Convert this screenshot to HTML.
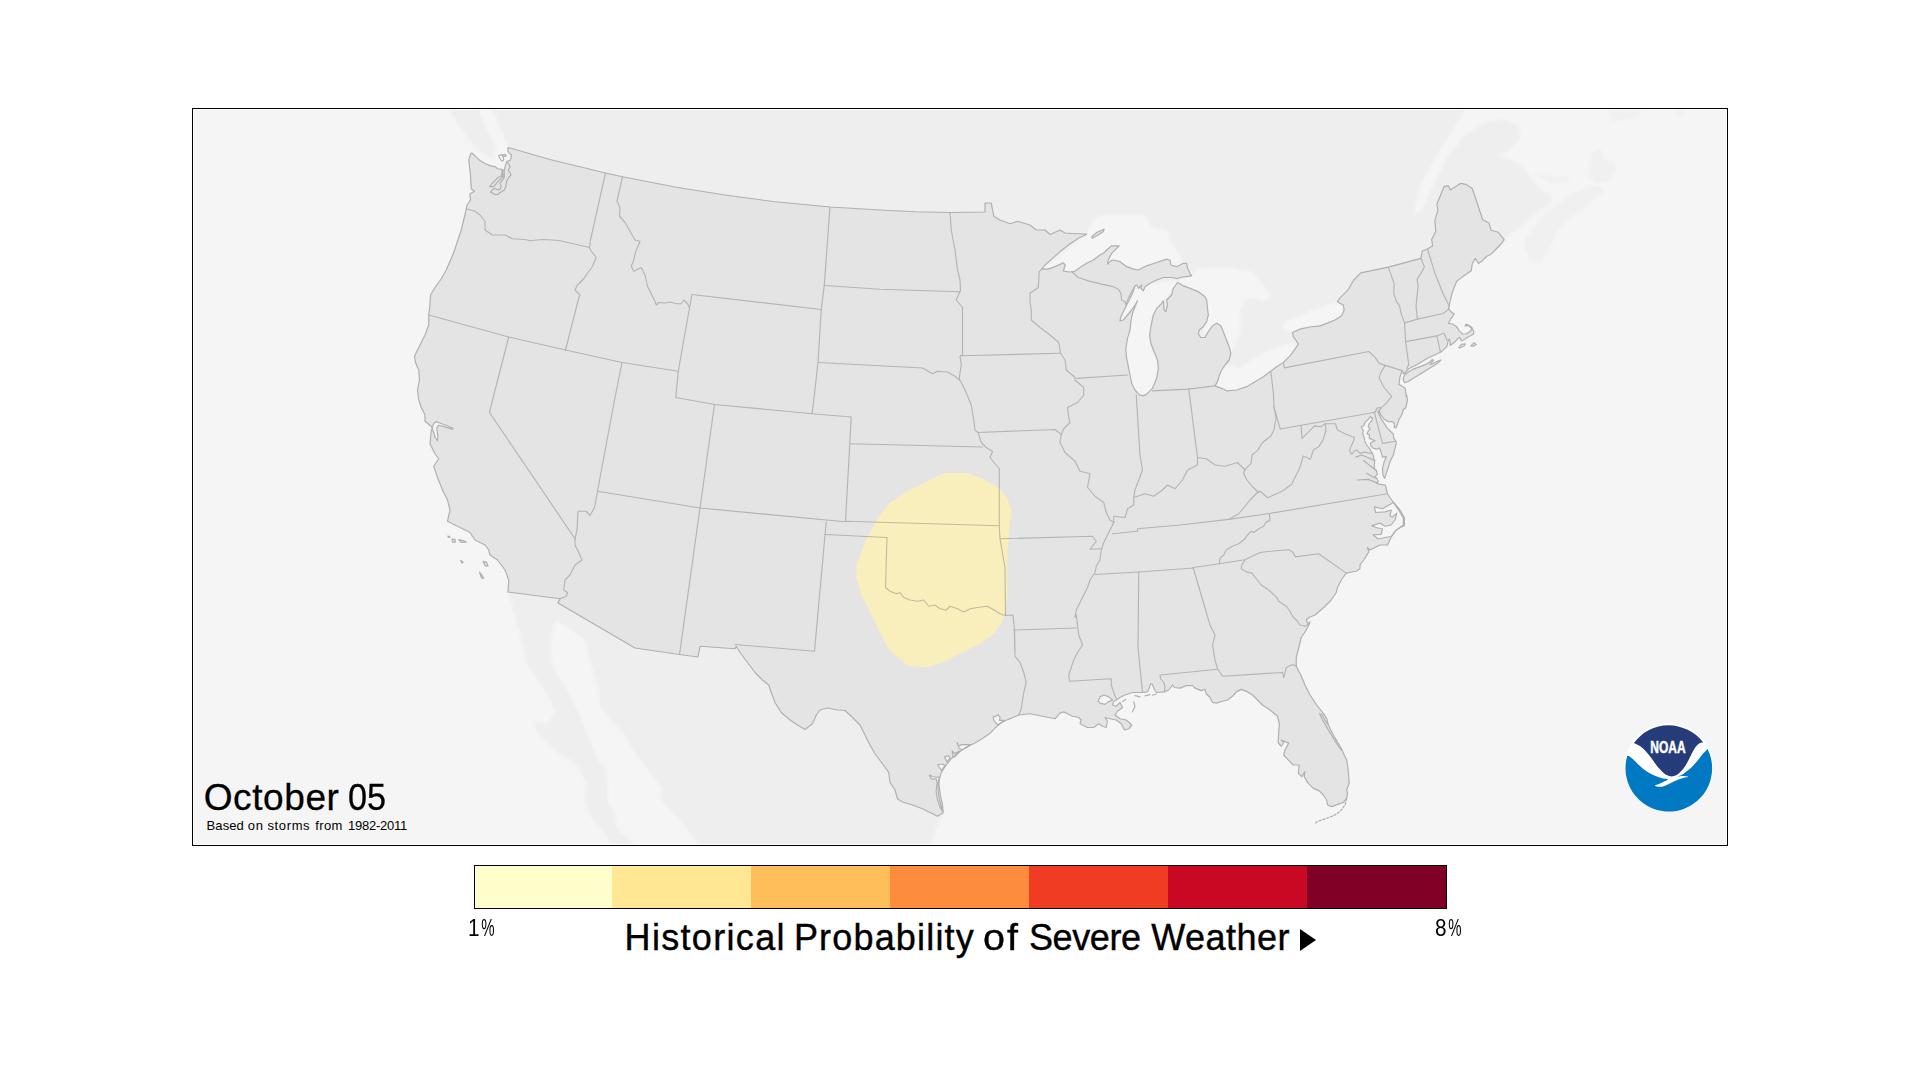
<!DOCTYPE html>
<html lang="en"><head><meta charset="utf-8"><title>Historical Probability of Severe Weather</title>
<style>
html,body{margin:0;padding:0;background:#fff;}
body{width:1920px;height:1080px;position:relative;overflow:hidden;font-family:"Liberation Sans","DejaVu Sans Condensed",sans-serif;color:#000;}
.frame{position:absolute;left:192px;top:108px;width:1534px;height:736px;border:1px solid #000;background:#fff;}
.map{position:absolute;left:194px;top:110px;display:block;}
.date{position:absolute;left:0;top:778px;width:800px;height:40px;font-size:37px;line-height:40px;white-space:nowrap;-webkit-text-stroke:0.3px #000;}
.date span,.sub span{position:absolute;top:0;}
.sub{position:absolute;left:0;top:817.5px;width:800px;height:16px;font-size:13px;line-height:16px;white-space:nowrap;}
.cbar{position:absolute;left:474px;top:865px;width:971px;height:42px;border:1px solid #000;display:flex;}
.cbar i{display:block;flex:0 0 139px;height:100%;}
.cbar i:first-child{flex:0 0 137px;}
.lo,.hi{position:absolute;top:915px;font-size:23.6px;line-height:26px;white-space:nowrap;transform:scaleX(.88);transform-origin:0 50%;}
.lo b,.hi b{display:inline-block;font-weight:normal;transform:scaleX(.72);transform-origin:0 50%;margin-left:1.5px;}
.lo{left:468px;} .hi{left:1435.3px;}
.title{position:absolute;left:0;top:917px;width:1920px;height:42px;font-size:36px;line-height:42px;white-space:nowrap;}
.title span{position:absolute;top:0;-webkit-text-stroke:0.4px #000;}
.tri{position:absolute;left:1300px;top:928.5px;width:0;height:0;border-left:16.5px solid #000;border-top:11px solid transparent;border-bottom:11px solid transparent;}

</style></head><body>
<div class="frame"></div>
<svg class="map" width="1532" height="734" viewBox="194 110 1532 734">
<defs><filter id="soft" x="-5%" y="-5%" width="110%" height="110%"><feGaussianBlur stdDeviation="1.5"/></filter></defs>
<rect x="194" y="110" width="1532" height="734" fill="#f5f5f5"/>
<g filter="url(#soft)">
<path d="M507.75,147.5 L504,135 L497.75,122.5 L492.75,110 L491.5,100 L1465.37,99.81 L1464.52,110 L1457.72,121.88 L1445.84,140.56 L1432.26,162.63 L1420.37,184.7 L1413.58,215.26 L1422.07,210.17 L1433.96,183.01 L1445.84,159.24 L1464.52,135.47 L1484.89,121.88 L1501.87,119.34 L1518.85,125.28 L1520.54,137.16 L1508.66,150.75 L1495.08,155.84 L1510.36,159.24 L1522.24,166.03 L1530.73,177.91 L1539.22,188.1 L1549.41,194.89 L1552.8,201.68 L1546.01,205.93 L1535.82,213.57 L1518.85,227.15 L1503.57,239.88 L1400,300 L1330,330 L1200,400 L1100,300 L900,260 L600,220 L510,160Z" fill="#eeeeee"/>
<path d="M447.75,100 L449,110 L459,125 L469,140 L481.5,152.5 L494,160 L496.5,147.5 L486.5,130 L479,110 L477.75,100Z" fill="#eeeeee"/>
<path d="M508,592.5 L512.5,607.5 L517.5,625 L522.5,645 L527.5,665 L537.5,680 L547.5,695 L555,710 L550,722.5 L532.5,722.5 L540,735 L555,750 L570,760 L580,770 L586.25,782.5 L585,800 L590,815 L602.5,830 L612.5,845 L617.5,855 L928,856 L930,844 L943,813 L900,700 L700,600 L560,560Z" fill="#eeeeee"/>
<path d="M555,620 L551.25,637.5 L551.25,660 L556.25,675 L565,685 L572.5,700 L580,715 L585,730 L592.5,745 L597.5,760 L605,767.5 L607.5,782.5 L607.5,800 L615,815 L617.5,830 L625,835 L635,845 L640,855 L703.75,855 L700,845 L695,840 L682.5,822.5 L670,810 L660,797.5 L662.5,787.5 L655,780 L645,765 L632.5,750 L625,735 L612.5,722.5 L600,705 L597.5,685 L590,660 L585,640 L570,628.75Z" fill="#f5f5f5"/>
<path d="M1523.94,245.82 L1529.03,259.41 L1539.22,262.8 L1549.41,249.22 L1557.89,228.85 L1569.78,218.66 L1583.36,208.47 L1595.25,198.29 L1603.74,191.49 L1600.34,184.7 L1586.76,188.1 L1569.78,194.89 L1556.2,205.08 L1546.01,211.87 L1535.82,225.45 L1525.64,239.03Z" fill="#f0f0f0"/>
<path d="M1591.85,152.44 L1600.34,148.2 L1603.74,159.24 L1613.92,162.63 L1617.32,169.42 L1607.13,181.31 L1595.25,183.01 L1588.46,174.52Z" fill="#f0f0f0"/>
<path d="M1534.13,172.82 L1540.92,177.91 L1552.8,183.01 L1566.38,181.31 L1573.17,172.82 L1568.08,176.21 L1556.2,177.91 L1544.31,174.52Z" fill="#f0f0f0"/>
<path d="M1607.98,99.81 L1608.83,110 L1612.22,121.88 L1620.71,120.19 L1637.69,116.79 L1641.09,110 L1641.94,99.81Z" fill="#f0f0f0"/>
<path d="M1672.5,99.81 L1673.34,110 L1680.14,116.79 L1686.93,110 L1687.78,99.81Z" fill="#f0f0f0"/>
<path d="M1041.67,269.17 L1086.67,234.17 L1090.83,225 L1093.33,218.33 L1103.33,215 L1143.33,215 L1153.33,228.33 L1168.33,230 L1170,240 L1175,248.33 L1180,255 L1180.83,261.67 L1186.67,263.33 L1191.67,275.83 L1180,270 L1146.67,270 L1113.33,265 L1080,271.67Z" fill="#f5f5f5"/>
<path d="M1177.5,280.83 L1191.67,275.83 L1196.67,268.33 L1230,267.5 L1251.67,271.67 L1263.33,285 L1271.67,296.67 L1263.33,301.67 L1251.67,298.33 L1243.33,301.67 L1240.83,315 L1240,331.67 L1235,346.67 L1230.83,353.33 L1221.67,370 L1205,337.5 L1196.67,291.67Z" fill="#f5f5f5"/>
<path d="M1177.5,280.83 L1136.67,285 L1120,320.83 L1125.83,348.33 L1131.67,383.33 L1143,395.83 L1156.67,378.33 L1149.67,335 L1163.33,300.83 L1177.5,282.5Z" fill="#f5f5f5"/>
<path d="M1215,385.83 L1221.67,370 L1230,365 L1240,368.33 L1250,360 L1263.33,353.33 L1276.67,346.67 L1290,343.33 L1298.33,344.17 L1290,355.83 L1270,371.67 L1246.67,386.67 L1226.67,390.83Z" fill="#f5f5f5"/>
<path d="M1292.5,332.5 L1283.33,330 L1280,326.67 L1286.67,321.67 L1296.67,316.67 L1313.33,310 L1326.67,305 L1338.33,301.67 L1344.17,310 L1335,320 L1320,325.83 L1300,329.17Z" fill="#f5f5f5"/>
<path d="M1240.83,308.33 L1251.67,300 L1266.67,305 L1280,321.67 L1283.33,330 L1292.5,332.5 L1296.67,343.33 L1290,343 L1276.67,346.33 L1263.33,353 L1250,359.67 L1240,368 L1230.83,364.67 L1223.33,367.5 L1230.83,353.33 L1235.33,346.67 L1240,331.67Z" fill="#eeeeee"/>
</g>
<path d="M470.94,153.12 L472.5,153.44 L476.25,156.88 L480,160.62 L485,163.44 L490,165.62 L495.62,166.88 L497.5,168.75 L501.88,169.38 L502.5,172.5 L504.38,170 L505,166.88 L506.88,161.56 L510.62,160 L511.56,155 L509.38,153.12 L507.81,151.25 L508.12,147.5 L550,159.5 L605.5,173 L622.5,176.75 L675,187 L725,195 L775,201.75 L830,207 L880,210 L915,211.75 L950,212.5 L985,212 L985,203 L991.25,203 L993.75,216.25 L1000,220 L1010,223.75 L1017.5,221.25 L1030,225 L1036.25,230 L1045,230 L1050,234.5 L1060,230 L1065,233 L1077.5,233.75 L1086.67,234.17 L1078.33,238.33 L1068.33,245 L1060,251.67 L1051.67,259.17 L1045,265 L1041.67,269.17 L1048.33,269.17 L1056.67,265.83 L1063.33,262.83 L1065.33,265 L1063.33,270.83 L1068.33,272 L1074.17,271.67 L1080,267.5 L1086.67,263.33 L1093.33,260 L1100,255 L1103.33,253.33 L1106.67,250 L1111.67,245.83 L1119.17,245.83 L1116.67,248.33 L1111.67,253.33 L1108.33,260 L1107.5,264.17 L1110.83,260.83 L1113.33,260 L1120,261.67 L1126.67,266.67 L1133.33,269.17 L1138.33,270 L1146.67,265.83 L1156.67,262.5 L1166.67,259.17 L1170,260 L1170.83,265 L1176.67,266.67 L1183.33,263.33 L1186.67,263.33 L1187.5,268.33 L1190,273.33 L1191.67,275.83 L1180,277.5 L1177.5,278.67 L1171.67,277.5 L1163.33,277.5 L1156.67,280 L1150,283.33 L1145,286.67 L1143.33,290.83 L1140.83,288.33 L1141.67,285 L1138.33,288.33 L1136.67,285 L1135,285.83 L1132.5,293.33 L1128.33,301.67 L1125,308.33 L1120.83,316.67 L1120,320.83 L1123.33,320 L1127.5,315 L1131.67,310 L1135,305 L1137.5,300.83 L1135,306.67 L1132.5,313.33 L1130.83,321.67 L1130,330 L1127.5,338.33 L1125.83,348.33 L1126.33,356.67 L1128.33,366.67 L1130,375 L1131.67,383.33 L1135,390 L1139.17,394.67 L1143,395.83 L1146.67,394.17 L1152.5,388.33 L1156.67,378.33 L1158.33,368.33 L1157.5,360 L1154.17,351.67 L1150.83,343.33 L1149.67,335 L1150.83,326.67 L1153.33,315 L1156.67,308.33 L1161.67,303.33 L1163.33,300.83 L1164.17,310 L1165.83,311.67 L1167.5,305 L1166.67,300 L1171.67,295 L1173.33,288.33 L1175.83,285 L1177.5,282.5 L1183.33,285.83 L1190,288.33 L1198.33,291.67 L1205,296.67 L1206.67,300 L1207.5,308.33 L1208.33,315 L1206.67,321.67 L1203.33,326.67 L1199.17,330 L1198.33,334.17 L1200.83,337.5 L1205,337.5 L1208.33,331.67 L1212.5,325.83 L1216.67,323.33 L1220.83,325.83 L1223.33,331.67 L1225.83,338.33 L1229.17,346.67 L1230.83,353.33 L1229.17,360 L1225,365 L1221.67,370 L1219.17,375.83 L1217.5,381.67 L1215,385.83 L1221.67,388.33 L1226.67,390.83 L1236.67,390 L1246.67,386.67 L1255,381.67 L1263.33,376.67 L1270,371.67 L1276.67,366.67 L1283.33,362.5 L1290,355.83 L1295,349.17 L1298.33,344.17 L1295.83,340 L1293.33,336.67 L1292.5,332.5 L1300,329.17 L1310,327 L1320,325.83 L1326.67,323.33 L1335,320 L1341.67,315.83 L1344.17,310 L1343.33,305 L1340,303.33 L1337.5,301.67 L1340,297.92 L1348.33,289.58 L1353.54,280.21 L1360.83,272.92 L1388.33,267.08 L1420.83,258.33 L1422.29,251.04 L1427.5,248.96 L1432.71,245.83 L1431.67,239.58 L1435.83,231.25 L1434.79,220.83 L1437.92,210.42 L1436.88,204.17 L1444.17,186.46 L1448.33,185.83 L1450.42,190 L1460.83,183.33 L1466.04,184.38 L1472.29,188.54 L1482.71,219.79 L1488.96,222.92 L1491.04,230.21 L1498.33,232.29 L1504.17,239.58 L1500.42,244.79 L1495.21,250 L1491.04,254.17 L1486.88,256.25 L1482.71,260.42 L1478.54,263.54 L1475.42,258.33 L1472.29,263.54 L1471.25,270.83 L1465,275 L1460.83,278.12 L1456.67,281.25 L1452.5,291.67 L1450.42,300 L1449.38,305.21 L1448.5,308.75 L1451.67,312.5 L1454.33,313.75 L1452.5,316.67 L1450.83,318.75 L1448.5,323.33 L1452.5,324 L1456.67,326.67 L1459.17,330.83 L1462.5,334 L1466.67,333.75 L1470.67,331 L1471.67,328.5 L1469.33,326 L1466.25,325.42 L1465.17,326 L1465.83,324.33 L1468.75,325.17 L1471.83,327.5 L1473.75,331.67 L1473.5,334.17 L1468.5,336.67 L1463.5,340 L1461,340.58 L1460.17,337.67 L1458.33,338.08 L1455.17,341.67 L1451.83,344.17 L1450,345.42 L1450.17,341.67 L1449.33,339.17 L1448.17,340.83 L1447.33,344.58 L1446.67,346.83 L1440.83,352.08 L1427.5,358.33 L1417.08,364.58 L1408.75,368.75 L1403.54,373.96 L1402.08,370.62 L1400,376.88 L1398.96,384.17 L1405.21,388.33 L1406.25,396.67 L1406.67,395 L1407.5,400 L1405.83,407.5 L1403.33,410 L1401.67,415 L1399.17,419.17 L1397.5,424.17 L1395.83,427.92 L1394.17,427.5 L1394.58,424.17 L1392.5,421.67 L1388.33,421.67 L1384.17,419.17 L1381.67,415.83 L1379.58,412.5 L1379.17,410 L1377.92,411.67 L1380.83,418.33 L1384.17,423.33 L1387.5,428.33 L1391.67,432.5 L1393.33,434.17 L1393.75,438.33 L1395.83,440.83 L1396.25,443.33 L1395,448.33 L1393.33,455 L1390,461.67 L1388.33,467.5 L1386.25,473.33 L1384.58,478.33 L1382.92,475 L1382.5,468.33 L1384.17,461.67 L1386.25,456.67 L1382.5,457.08 L1381.67,454.17 L1380.42,450 L1379.17,447.92 L1376.67,449.17 L1373.33,448.33 L1370.83,445.83 L1370.42,443.33 L1373.33,441.25 L1375,440.83 L1371.67,439.17 L1369.17,438.33 L1369.58,435 L1367.08,433.75 L1368.33,430.83 L1370,429.17 L1368.33,426.67 L1369.17,423.33 L1371.67,420.83 L1372.5,418.33 L1370.42,416.67 L1368.33,419.17 L1365.42,421.67 L1363.75,425.83 L1361.25,427.08 L1363.33,430.83 L1362.5,433.33 L1364.17,437.5 L1365,441.67 L1366.67,445 L1370,449.17 L1372.08,452.92 L1373.33,455.83 L1374.58,461.67 L1374.17,467.5 L1376.67,471.67 L1377.5,474.17 L1375,476.67 L1376.67,478.33 L1378.33,481.67 L1376.67,483.33 L1379.17,484.17 L1385.42,485.21 L1387.5,493.75 L1392.5,501.25 L1400,510 L1404.38,517.5 L1404.38,525.62 L1400,527.5 L1395.62,530.62 L1391.25,536.88 L1387.5,545 L1380,545 L1370,550 L1367.5,547.5 L1368.75,551.88 L1363.75,560 L1360,565 L1360,568.75 L1356.25,571.25 L1346.25,573.12 L1341.25,580 L1337.5,587.5 L1336.25,592.5 L1331.25,600 L1323.75,607.5 L1315,615 L1308.75,617.5 L1306.25,620 L1308.75,625 L1310,622.5 L1306.25,630 L1301.25,637.5 L1298.75,647.5 L1296.25,657.5 L1296.25,666.25 L1300.83,675 L1305,685 L1310,695 L1316.67,705 L1323.33,713.33 L1326.67,718.33 L1328.33,725 L1333.33,735 L1338.33,743.33 L1342.5,750.83 L1343.33,753.33 L1346.67,760 L1348.33,771.67 L1349.17,783.33 L1346.67,790 L1347.5,793.33 L1346.67,798.33 L1343.33,802.5 L1338.33,804.17 L1331.67,806.67 L1327.5,805 L1326.67,800 L1323.33,795 L1319.17,790.83 L1313.33,788.33 L1308.33,783.33 L1304.17,776.67 L1305,771.67 L1301.67,776.67 L1298.33,773.33 L1299.17,765 L1293.33,765 L1286.67,758.33 L1283.75,755 L1285,750 L1288.75,743.12 L1281.25,740 L1283.75,742.5 L1281.25,746.25 L1278.12,742.5 L1278.75,732.5 L1279.38,723.75 L1277.5,716.25 L1270,710 L1262.5,705 L1257.5,700 L1252.5,695 L1247.5,691.88 L1241.25,689.38 L1236.25,691.88 L1232.5,696.25 L1227.5,700 L1222.5,701.25 L1216.25,703.12 L1212.5,702.5 L1210,697.5 L1206.25,693.75 L1205,689.38 L1201.25,690.62 L1195,688.12 L1192.5,685.62 L1186.25,685.62 L1180,688.12 L1174.38,687.5 L1172.5,685 L1168.75,690 L1164.38,691.88 L1156.25,692.5 L1153.75,688.12 L1152.5,684.38 L1150.62,683.75 L1149.38,687.5 L1147.5,691.88 L1141.25,692.5 L1132.5,692.5 L1125,695 L1120,697.5 L1116.25,700 L1113.75,701.25 L1112.5,705 L1116.25,706.25 L1120,702.5 L1122.5,707.5 L1117.5,711.25 L1115,715 L1120,718.75 L1126.25,720 L1131.88,725 L1128.75,728.75 L1124.38,730 L1121.25,723.75 L1116.25,720 L1110,718.75 L1105,717.5 L1107.5,721.25 L1106.25,727.5 L1102.5,726.25 L1098.75,723.75 L1093.75,727.5 L1087.5,727.5 L1082.5,725 L1080,723.75 L1081.25,720 L1078.75,717.5 L1072.5,716.25 L1067.5,713.75 L1063.75,711.88 L1060,713.12 L1055,718.75 L1042.5,716.25 L1030,713.75 L1018.75,715 L1014.72,716.81 L1007.78,719.58 L1000.83,723.06 L995.28,727.92 L989.72,733.47 L982.78,738.33 L974.44,743.19 L966.11,747.36 L957.78,752.92 L950.83,759.17 L945.28,766.11 L941.11,773.06 L939.03,780 L939.03,785.56 L940.42,795.28 L942.5,805 L943.19,812.64 L937.5,816.25 L930,812.5 L922.5,808.75 L912.5,805 L902.5,802 L897.5,798.75 L895,790 L890,782.5 L888.75,772.5 L882.5,763.75 L875,753.75 L870,745 L865,735 L860,725 L852.5,717.5 L845,710.5 L837.5,710 L827.5,708 L820,710 L816.25,715 L812.5,723.75 L805,729.5 L797.5,725 L790,720 L781.25,712.5 L775,702.5 L771.25,692.5 L768.75,685 L762.5,680 L755,672.5 L747.5,662.5 L740,652.5 L736.25,646.25 L735,648.75 L700,646.25 L698,657 L679.5,654.5 L635,648 L558,603 L560,598.75 L508,592 L508.75,580 L505,570 L497.5,560 L490,555 L488.75,550 L485,545 L475,540 L470,532.5 L460,527.5 L447.5,521.25 L450,510 L447.5,500 L442.5,490 L437.5,477.5 L433.75,466.25 L438.75,458.75 L435,453.75 L430,443.75 L431.25,431.25 L432.5,427.5 L425,421.25 L425,415 L421.25,407.5 L418.75,400 L417.5,390 L419.5,380 L418.75,370 L415.5,362.5 L414.5,356.25 L418.75,347.5 L425,335 L428.75,325 L428.75,315 L430,305 L430.5,295 L435,287.5 L441.25,278.75 L446.25,270 L453.75,252.5 L461.25,230 L465.5,212.5 L466.25,208.75 L467,205 L470.5,200 L470,193.75 L474.5,191.25 L471.25,188.75 L470.5,175 L468.75,160ZM1405,374.58 L1408.33,372.08 L1413.33,369.17 L1420,366.67 L1426.67,364.17 L1430,361.83 L1432.33,359.33 L1433.33,360.42 L1431,363.33 L1430,364.33 L1433.33,363.33 L1438.33,361 L1441,360 L1438.33,362.67 L1433.33,366 L1426.67,370 L1420,374.17 L1413.33,378.33 L1408.33,381.5 L1404.58,382.67 L1403.17,379.58 L1403.75,376.67ZM1458.75,347.5 L1461.25,344.33 L1465.42,343.75 L1464.17,345.83 L1460,347.92ZM1470.83,345.83 L1474.17,342.67 L1476.25,344.58 L1473.33,346.25ZM1091.67,236.67 L1096.67,232.5 L1104.17,229.17 L1103.33,231.67 L1096.67,235.83 L1092.5,238.33ZM451.98,538.99 L455.03,539.4 L455.44,542.05 L452.59,542.05ZM458.7,539.6 L463.19,540.62 L466.25,542.05 L461.15,542.45ZM483.16,561.41 L486.63,562.43 L488.06,565.89 L485.2,565.89ZM479.49,572.01 L481.53,574.66 L483.57,578.12 L481.53,578.12ZM460.74,560.39 L463.19,562.43 L461.56,562.84ZM447.9,536.14 L450.14,536.95 L448.51,537.36Z" fill="#e4e4e4"/>
<path d="M1098.12,701.25 L1100,696.88 L1103.75,695 L1108.75,696.88 L1112.5,700 L1108.12,701.88 L1105,704.38 L1100,703.12Z" fill="#f5f5f5"/>
<path d="M1391.25,503.75 L1382.5,508.75 L1374.38,506.88 L1375.62,512.5 L1385,511.88 L1391.25,510 L1390,516.25 L1392.5,516.88 L1396.88,513.12 L1395,520 L1391.25,525 L1385,526.25 L1380,523.12 L1371.88,525.62 L1376.88,527.75 L1382.5,528.75 L1381.25,534.38 L1373.12,534.75 L1378.12,539 L1386.25,537.25 L1391.25,536.5 L1395.62,530.62 L1400,527.5 L1403.38,525 L1403.38,518.12 L1399,510.62 L1393.5,502.5Z" fill="#f5f5f5"/>
<path d="M502.38,170 L504.06,170.12 L504.38,175 L503,177.38 L502,175.62Z" fill="#f5f5f5"/>
<path d="M432,428.51 L433.84,423.21 L436.28,421.58 L439.14,422.8 L445.86,425.25 L453,428.31 L452.59,429.33 L444.84,426.88 L438.32,425.25 L436.69,428.51 L437.91,436.05 L437.51,440.74 L435.06,437.48 L433.63,431.98Z" fill="#f5f5f5"/>
<path d="M997.36,724.72 L993.89,720.28 L993.19,716.81 L995.97,716.11 L998.06,714.72 L1000.14,717.5 L999.44,720.28 L1004.31,720.28 L1001.11,723.06Z" fill="#f5f5f5"/>
<path d="M957.08,742.5 L958.47,745.97 L961.94,744.58 L970.28,744.58 L966.11,748.06 L961.94,749.72 L959.17,748.33Z" fill="#f5f5f5"/>
<path d="M952.22,750.83 L954.31,753.61 L959.86,751.11 L956.11,755.69 L952.92,757.5Z" fill="#f5f5f5"/>
<path d="M944.58,757.08 L948.06,755.69 L950.14,757.78 L946.94,761.94Z" fill="#f5f5f5"/>
<path d="M937.64,764.72 L942.5,764.03 L945,765.69 L941.39,770.28Z" fill="#f5f5f5"/>
<path d="M929.31,775.14 L931.39,778.89 L936.25,778.89 L937.22,782.78 L936.11,791.11 L937.5,799.44 L940.28,807.78 L942.22,811.25 L941.11,805.69 L939.03,798.06 L938.06,789.72 L938.33,782.08 L939.44,777.22 L936.94,777.22 L932.78,776.53Z" fill="#f5f5f5"/>
<path d="M945,473 L967.5,473 L985,480 L1000,488.75 L1007.5,498.75 L1011.25,510 L1010,525 L1007.5,550 L1007,575 L1007.5,595 L1005,615 L1000,625 L992.5,635 L980,643.75 L965,651.25 L945,661.25 L927.5,667.5 L907.5,665.5 L897.5,657.5 L887.5,647.5 L882.5,637.5 L875,622.5 L867.5,606.25 L861.25,595 L856.25,577.5 L856.25,577.5 L857,565 L860,555 L865,542.5 L872.5,527.5 L880,515 L890,502.5 L910,490 L930,480Z" fill="#f9efbc"/>
<g fill="none" stroke="#6e6e6e" opacity="0.4" stroke-width="1.15" stroke-linejoin="round" stroke-linecap="round">
<path d="M466.25,208.75 L475,211.25 L480,215 L485,221.25 L485,230 L492.5,235 L505,235 L512.5,238.75 L525,239.5 L530,240.75 L542.5,239.5 L552.5,240 L560,240.75 L589.5,247.5"/>
<path d="M605.5,173 L590.5,240 L589.5,247.5 L591.25,251.25 L596.25,257.5 L592.5,266.25 L586.25,275 L583.75,278.75 L577.5,285 L575,290 L580,295 L578.75,298 L565.5,350"/>
<path d="M428.75,315 L508.75,337 L565.5,350 L622,362.5 L678.25,371.25"/>
<path d="M508.75,337 L492.5,400 L489.5,412.5 L575,538.75"/>
<path d="M622,362.5 L614.5,400 L597.5,491.25"/>
<path d="M622.5,176.75 L617,201.25 L620,207.5 L619.5,216.25 L625,222.5 L630,231.25 L635,240 L640,241.25 L637.5,247.5 L635,253.75 L633.75,260 L631.25,266.25 L633.75,271.25 L641.25,267.5 L645,275 L647.5,286.25 L651.25,293.75 L655,301.25 L656.25,305 L658.75,302.5 L665,303 L670,302 L676.25,303.75 L681.25,303.75 L683.75,300 L687.5,303.75 L689.5,308"/>
<path d="M692,294.5 L689.5,308 L678.25,371.25 L675.75,397.5"/>
<path d="M692,294.5 L821.25,309.5"/>
<path d="M830,207 L824.25,285.5 L821.25,309.5 L818,362.5 L813.75,400 L812,413.75"/>
<path d="M824.25,285.5 L880,289.25 L960.5,291.75"/>
<path d="M818,362.5 L880,365.75 L922.5,368 L932.5,373.75 L937.5,371.25 L947.5,372 L955,376.25 L959.5,380"/>
<path d="M675.75,397.5 L714.5,404.5 L812.5,413.75 L851.25,417"/>
<path d="M950,212.5 L951.25,230 L955,250 L957.5,270 L960,280 L960.5,290 L956.25,300 L962.5,307.5 L962.5,355 L960,356.25 L961.25,365 L959.5,376.25 L959.5,380 L960,380 L965,390 L971.25,405 L973.75,420 L975,430 L978,432.5 L981.25,442.5 L986.25,447.5 L992.5,451.25 L990,457.5 L995,463.75 L999.25,468.75 L999.25,525.75 L1000,538.75 L1005,567.5 L1005.5,615.5"/>
<path d="M960.5,355.75 L1060,353.25"/>
<path d="M1041.67,269.17 L1039.17,271.67 L1038.33,287.5 L1030,293.33 L1030,302.5 L1031.25,310 L1031.25,320 L1040,327.5 L1050,335 L1058.75,342.5 L1060.5,353.25 L1065,360 L1066.25,370 L1075,377.5 L1075,380 L1083.75,387.5 L1083.75,395 L1077.5,402.5 L1067.5,407.5 L1068.75,417.5 L1070,422.5 L1063.75,428.75 L1061.25,434.5 L1060,442.5 L1065,452.5 L1075,461.25 L1080,471.25 L1090,473.75 L1087.5,487.5 L1095,496.25 L1103.75,502.5 L1106.25,512.5 L1110,520 L1113.75,522.5 L1110,530 L1107.5,535 L1103.75,542.5 L1101.25,550 L1100,560 L1096.25,566.25 L1095,572.5 L1090,580 L1087.5,587.5 L1083.75,595 L1080,602.5 L1076.25,610 L1075,617.5 L1076.25,615 L1077.5,625 L1078.75,635 L1082.5,645 L1077.5,652.5 L1073.75,660 L1071.25,667.5 L1068.75,675 L1069.5,681.25 L1111.25,678.75 L1111.25,685 L1113.75,692.5 L1116.25,698.75"/>
<path d="M1076.67,378.33 L1127.5,375"/>
<path d="M1072.5,272.5 L1078.33,277.5 L1088.33,280.83 L1101.67,284.17 L1113.33,286.67 L1118.33,289.17 L1120.83,293.33 L1121.67,300 L1125,301.67 L1125.83,305 L1128.33,298.33 L1131.67,291.67 L1135,285.83"/>
<path d="M1152.5,390.83 L1188.33,389.17 L1215,385.83"/>
<path d="M1188.33,389.17 L1188.75,388.75 L1197.5,457.5"/>
<path d="M978,432.5 L1055,429.5 L1061.25,434.5"/>
<path d="M850.5,443.75 L982.5,447"/>
<path d="M851.25,417 L845.5,521.25"/>
<path d="M575,538.75 L577,530 L578,511.25 L586.25,511.25 L590,515.5 L594.5,507.5 L597.5,491.25"/>
<path d="M575,538.75 L575,545 L578.75,552.5 L582,560 L575,565 L570,575 L565,580 L563.75,590 L567.5,592.5 L566.25,596.25 L560,598.75"/>
<path d="M597.5,491.25 L700,508 L845,521.75 L845.5,521.25 L999.25,525.75"/>
<path d="M714.5,404.5 L700,508 L679.5,654.5"/>
<path d="M735,644.5 L814.5,651.25 L825,535 L826.25,521.75"/>
<path d="M825,534.5 L887,537.5 L885.5,587.5 L890,591.25 L896.25,593.75 L900,592.5 L903.75,597.5 L910,600 L917.5,601.25 L923.75,600 L928.75,606.25 L935,605 L940,608.75 L946.25,610 L950,606.25 L957.5,608.75 L963.75,612 L970,608.75 L977.5,607.5 L987.5,606.25 L995,610.5 L1000,613.75 L1005,615.5 L1013,615 L1014.5,630 L1015,650 L1014.25,628.75 L1015,656.25 L1020,662.5 L1023.75,672.5 L1026.25,682.5 L1023.75,692.5 L1022.5,700 L1021.25,708.75 L1018.75,715"/>
<path d="M1014.5,630 L1076.25,628"/>
<path d="M1000,538.75 L1092.5,536.25 L1096.25,541.25 L1090,549.25 L1102,548.75"/>
<path d="M1136.25,395 L1140,455 L1142.5,470 L1138.75,480 L1135,490 L1133.75,497.5"/>
<path d="M1113.75,522.5 L1113.75,516.25 L1125,517.5 L1127.5,508.75 L1133.75,505 L1133.75,497.5 L1145,493.75 L1153.75,496.25 L1162.5,490 L1167.5,485 L1175,488.75 L1182.5,480 L1187.5,470 L1197.5,465 L1197.5,457.5 L1206.25,458.75 L1215,465 L1225,466.25 L1237.5,462.5 L1245,470 L1244.79,469.58 L1251.04,463.33 L1252.08,455 L1257.29,450.83 L1262.5,442.5 L1270.83,436.25 L1273.96,430 L1276.04,417.5 L1273.96,407.08 L1273.33,392.5 L1270.83,371.67"/>
<path d="M1138.75,572 L1138,647.5 L1142.5,692.5"/>
<path d="M1164.38,691.5 L1165,686.25 L1163.75,682.5 L1160.62,678.75 L1160,675 L1217.5,669.25"/>
<path d="M1244.79,469.58 L1243.75,473.75 L1246.88,480 L1252.08,486.25 L1258.33,492.5"/>
<path d="M1258.75,491.25 L1250,500 L1245,506.25 L1238.75,513.75 L1228.75,519.38"/>
<path d="M1112.5,533.75 L1137.5,531.25 L1137.5,528.75 L1180,525 L1228.75,519.38 L1269.38,513.5 L1387.5,493.75"/>
<path d="M1095,574.5 L1138.75,572 L1193.75,568 L1193.12,567.5 L1219.38,563.75 L1245,559.75 L1260,552.5 L1270,551.25 L1288.75,549.75 L1292.5,551.88 L1295.62,556.88 L1318.75,553.75 L1346.25,573.12"/>
<path d="M1269.38,513.5 L1270,520.62 L1266.25,521.88 L1263.75,526.25 L1258.75,528.75 L1253.75,532.5 L1251.25,531.25 L1247.5,535 L1245,538.75 L1238.75,543.75 L1232.5,546.25 L1226.25,550 L1223.75,555 L1220,558.12 L1219.38,563.75"/>
<path d="M1193.12,567.5 L1210,625 L1210,625 L1215,635 L1212.5,645 L1215,660 L1217.5,668.75 L1222.5,676.25 L1282.5,672.5 L1283.75,677.5 L1286.25,667.5 L1292.5,664.5 L1296.25,666.25"/>
<path d="M1245,559.75 L1241.88,565 L1241.25,568.75 L1246.25,571.88 L1251.88,573.12 L1256.25,578.75 L1261.25,585 L1268.75,590 L1276.25,596.88 L1278.75,601.25 L1286.25,606.25 L1290,611.25 L1292.5,616.25 L1297.5,621.25 L1300,625 L1306.25,626.25 L1310,621.25"/>
<path d="M1283.33,363.33 L1284.38,367.92 L1368.75,351.46 L1375,357.08 L1379.17,363.33 L1385.42,365.42 L1381.25,371.67 L1379.17,377.92 L1383.33,386.25 L1391.67,396.67 L1386.46,402.92 L1381.25,408.12 L1379.58,410.21"/>
<path d="M1385.42,365.42 L1402.08,370.62"/>
<path d="M1280.21,428.96 L1375,412.29 L1377.08,408.12 L1381.25,407.5"/>
<path d="M1273.96,407.08 L1280.21,428.96"/>
<path d="M1374.17,411.67 L1382.5,443.33 L1395,441.25"/>
<path d="M1301.04,425.42 L1302.08,438.33 L1308.33,432.08 L1314.58,425.83 L1320.83,426.88 L1325,423.75 L1335.42,423.75 L1337.5,430 L1345.83,434.17 L1354.17,437.29 L1354.17,438.33 L1353.33,441.67 L1350.83,446.67 L1349.58,450.83 L1351.67,454.33 L1355,450.67 L1356.67,450 L1360,453.33 L1364.17,452.08 L1368.33,452.92 L1372.08,453.33"/>
<path d="M1325,423.75 L1326.04,430 L1322.92,440.42 L1318.75,446.67 L1313.54,449.79 L1310.42,459.17 L1303.12,456.04 L1300,467.5 L1295.83,475.83 L1291.67,484.17 L1283.33,490.42 L1275,494.58 L1267.71,497.71 L1260.42,491.46 L1258.33,492.5"/>
<path d="M1388.33,267.08 L1391.04,275 L1394.17,283.33 L1393.75,293.75 L1396.67,302.08 L1399.38,305.21 L1401.46,314.58 L1404.58,322.92 L1405.62,341.67 L1408.75,364.58 L1406.67,368.75"/>
<path d="M1420.83,258.33 L1424.38,266.67 L1421.25,272.92 L1417.08,279.17 L1418.12,285.42 L1417.08,295.83 L1416.04,306.25 L1417.5,319.17"/>
<path d="M1427.5,248.96 L1434.79,272.92 L1443.12,293.75 L1448.33,304.17"/>
<path d="M1404.58,322.92 L1417.5,319.17 L1443.12,313.54 L1448.33,309.38 L1449.38,305.21"/>
<path d="M1405.62,341.67 L1436.88,335.83 L1444.17,333.33 L1446.67,339.17 L1447.33,340.42"/>
<path d="M1436.88,335.83 L1440.42,352.08"/>
</g>
<g fill="none" stroke="#b0b0b0" stroke-width="1.2" stroke-linejoin="round" stroke-linecap="round">
<path d="M470.94,153.12 L472.5,153.44 L476.25,156.88 L480,160.62 L485,163.44 L490,165.62 L495.62,166.88 L497.5,168.75 L501.88,169.38 L502.5,172.5 L504.38,170 L505,166.88 L506.88,161.56 L510.62,160 L511.56,155 L509.38,153.12 L507.81,151.25 L508.12,147.5 L550,159.5 L605.5,173 L622.5,176.75 L675,187 L725,195 L775,201.75 L830,207 L880,210 L915,211.75 L950,212.5 L985,212 L985,203 L991.25,203 L993.75,216.25 L1000,220 L1010,223.75 L1017.5,221.25 L1030,225 L1036.25,230 L1045,230 L1050,234.5 L1060,230 L1065,233 L1077.5,233.75 L1086.67,234.17 L1078.33,238.33 L1068.33,245 L1060,251.67 L1051.67,259.17 L1045,265 L1041.67,269.17 L1048.33,269.17 L1056.67,265.83 L1063.33,262.83 L1065.33,265 L1063.33,270.83 L1068.33,272 L1074.17,271.67 L1080,267.5 L1086.67,263.33 L1093.33,260 L1100,255 L1103.33,253.33 L1106.67,250 L1111.67,245.83 L1119.17,245.83 L1116.67,248.33 L1111.67,253.33 L1108.33,260 L1107.5,264.17 L1110.83,260.83 L1113.33,260 L1120,261.67 L1126.67,266.67 L1133.33,269.17 L1138.33,270 L1146.67,265.83 L1156.67,262.5 L1166.67,259.17 L1170,260 L1170.83,265 L1176.67,266.67 L1183.33,263.33 L1186.67,263.33 L1187.5,268.33 L1190,273.33 L1191.67,275.83 L1180,277.5 L1177.5,278.67 L1171.67,277.5 L1163.33,277.5 L1156.67,280 L1150,283.33 L1145,286.67 L1143.33,290.83 L1140.83,288.33 L1141.67,285 L1138.33,288.33 L1136.67,285 L1135,285.83 L1132.5,293.33 L1128.33,301.67 L1125,308.33 L1120.83,316.67 L1120,320.83 L1123.33,320 L1127.5,315 L1131.67,310 L1135,305 L1137.5,300.83 L1135,306.67 L1132.5,313.33 L1130.83,321.67 L1130,330 L1127.5,338.33 L1125.83,348.33 L1126.33,356.67 L1128.33,366.67 L1130,375 L1131.67,383.33 L1135,390 L1139.17,394.67 L1143,395.83 L1146.67,394.17 L1152.5,388.33 L1156.67,378.33 L1158.33,368.33 L1157.5,360 L1154.17,351.67 L1150.83,343.33 L1149.67,335 L1150.83,326.67 L1153.33,315 L1156.67,308.33 L1161.67,303.33 L1163.33,300.83 L1164.17,310 L1165.83,311.67 L1167.5,305 L1166.67,300 L1171.67,295 L1173.33,288.33 L1175.83,285 L1177.5,282.5 L1183.33,285.83 L1190,288.33 L1198.33,291.67 L1205,296.67 L1206.67,300 L1207.5,308.33 L1208.33,315 L1206.67,321.67 L1203.33,326.67 L1199.17,330 L1198.33,334.17 L1200.83,337.5 L1205,337.5 L1208.33,331.67 L1212.5,325.83 L1216.67,323.33 L1220.83,325.83 L1223.33,331.67 L1225.83,338.33 L1229.17,346.67 L1230.83,353.33 L1229.17,360 L1225,365 L1221.67,370 L1219.17,375.83 L1217.5,381.67 L1215,385.83 L1221.67,388.33 L1226.67,390.83 L1236.67,390 L1246.67,386.67 L1255,381.67 L1263.33,376.67 L1270,371.67 L1276.67,366.67 L1283.33,362.5 L1290,355.83 L1295,349.17 L1298.33,344.17 L1295.83,340 L1293.33,336.67 L1292.5,332.5 L1300,329.17 L1310,327 L1320,325.83 L1326.67,323.33 L1335,320 L1341.67,315.83 L1344.17,310 L1343.33,305 L1340,303.33 L1337.5,301.67 L1340,297.92 L1348.33,289.58 L1353.54,280.21 L1360.83,272.92 L1388.33,267.08 L1420.83,258.33 L1422.29,251.04 L1427.5,248.96 L1432.71,245.83 L1431.67,239.58 L1435.83,231.25 L1434.79,220.83 L1437.92,210.42 L1436.88,204.17 L1444.17,186.46 L1448.33,185.83 L1450.42,190 L1460.83,183.33 L1466.04,184.38 L1472.29,188.54 L1482.71,219.79 L1488.96,222.92 L1491.04,230.21 L1498.33,232.29 L1504.17,239.58 L1500.42,244.79 L1495.21,250 L1491.04,254.17 L1486.88,256.25 L1482.71,260.42 L1478.54,263.54 L1475.42,258.33 L1472.29,263.54 L1471.25,270.83 L1465,275 L1460.83,278.12 L1456.67,281.25 L1452.5,291.67 L1450.42,300 L1449.38,305.21 L1448.5,308.75 L1451.67,312.5 L1454.33,313.75 L1452.5,316.67 L1450.83,318.75 L1448.5,323.33 L1452.5,324 L1456.67,326.67 L1459.17,330.83 L1462.5,334 L1466.67,333.75 L1470.67,331 L1471.67,328.5 L1469.33,326 L1466.25,325.42 L1465.17,326 L1465.83,324.33 L1468.75,325.17 L1471.83,327.5 L1473.75,331.67 L1473.5,334.17 L1468.5,336.67 L1463.5,340 L1461,340.58 L1460.17,337.67 L1458.33,338.08 L1455.17,341.67 L1451.83,344.17 L1450,345.42 L1450.17,341.67 L1449.33,339.17 L1448.17,340.83 L1447.33,344.58 L1446.67,346.83 L1440.83,352.08 L1427.5,358.33 L1417.08,364.58 L1408.75,368.75 L1403.54,373.96 L1402.08,370.62 L1400,376.88 L1398.96,384.17 L1405.21,388.33 L1406.25,396.67 L1406.67,395 L1407.5,400 L1405.83,407.5 L1403.33,410 L1401.67,415 L1399.17,419.17 L1397.5,424.17 L1395.83,427.92 L1394.17,427.5 L1394.58,424.17 L1392.5,421.67 L1388.33,421.67 L1384.17,419.17 L1381.67,415.83 L1379.58,412.5 L1379.17,410 L1377.92,411.67 L1380.83,418.33 L1384.17,423.33 L1387.5,428.33 L1391.67,432.5 L1393.33,434.17 L1393.75,438.33 L1395.83,440.83 L1396.25,443.33 L1395,448.33 L1393.33,455 L1390,461.67 L1388.33,467.5 L1386.25,473.33 L1384.58,478.33 L1382.92,475 L1382.5,468.33 L1384.17,461.67 L1386.25,456.67 L1382.5,457.08 L1381.67,454.17 L1380.42,450 L1379.17,447.92 L1376.67,449.17 L1373.33,448.33 L1370.83,445.83 L1370.42,443.33 L1373.33,441.25 L1375,440.83 L1371.67,439.17 L1369.17,438.33 L1369.58,435 L1367.08,433.75 L1368.33,430.83 L1370,429.17 L1368.33,426.67 L1369.17,423.33 L1371.67,420.83 L1372.5,418.33 L1370.42,416.67 L1368.33,419.17 L1365.42,421.67 L1363.75,425.83 L1361.25,427.08 L1363.33,430.83 L1362.5,433.33 L1364.17,437.5 L1365,441.67 L1366.67,445 L1370,449.17 L1372.08,452.92 L1373.33,455.83 L1374.58,461.67 L1374.17,467.5 L1376.67,471.67 L1377.5,474.17 L1375,476.67 L1376.67,478.33 L1378.33,481.67 L1376.67,483.33 L1379.17,484.17 L1385.42,485.21 L1387.5,493.75 L1392.5,501.25 L1400,510 L1404.38,517.5 L1404.38,525.62 L1400,527.5 L1395.62,530.62 L1391.25,536.88 L1387.5,545 L1380,545 L1370,550 L1367.5,547.5 L1368.75,551.88 L1363.75,560 L1360,565 L1360,568.75 L1356.25,571.25 L1346.25,573.12 L1341.25,580 L1337.5,587.5 L1336.25,592.5 L1331.25,600 L1323.75,607.5 L1315,615 L1308.75,617.5 L1306.25,620 L1308.75,625 L1310,622.5 L1306.25,630 L1301.25,637.5 L1298.75,647.5 L1296.25,657.5 L1296.25,666.25 L1300.83,675 L1305,685 L1310,695 L1316.67,705 L1323.33,713.33 L1326.67,718.33 L1328.33,725 L1333.33,735 L1338.33,743.33 L1342.5,750.83 L1343.33,753.33 L1346.67,760 L1348.33,771.67 L1349.17,783.33 L1346.67,790 L1347.5,793.33 L1346.67,798.33 L1343.33,802.5 L1338.33,804.17 L1331.67,806.67 L1327.5,805 L1326.67,800 L1323.33,795 L1319.17,790.83 L1313.33,788.33 L1308.33,783.33 L1304.17,776.67 L1305,771.67 L1301.67,776.67 L1298.33,773.33 L1299.17,765 L1293.33,765 L1286.67,758.33 L1283.75,755 L1285,750 L1288.75,743.12 L1281.25,740 L1283.75,742.5 L1281.25,746.25 L1278.12,742.5 L1278.75,732.5 L1279.38,723.75 L1277.5,716.25 L1270,710 L1262.5,705 L1257.5,700 L1252.5,695 L1247.5,691.88 L1241.25,689.38 L1236.25,691.88 L1232.5,696.25 L1227.5,700 L1222.5,701.25 L1216.25,703.12 L1212.5,702.5 L1210,697.5 L1206.25,693.75 L1205,689.38 L1201.25,690.62 L1195,688.12 L1192.5,685.62 L1186.25,685.62 L1180,688.12 L1174.38,687.5 L1172.5,685 L1168.75,690 L1164.38,691.88 L1156.25,692.5 L1153.75,688.12 L1152.5,684.38 L1150.62,683.75 L1149.38,687.5 L1147.5,691.88 L1141.25,692.5 L1132.5,692.5 L1125,695 L1120,697.5 L1116.25,700 L1113.75,701.25 L1112.5,705 L1116.25,706.25 L1120,702.5 L1122.5,707.5 L1117.5,711.25 L1115,715 L1120,718.75 L1126.25,720 L1131.88,725 L1128.75,728.75 L1124.38,730 L1121.25,723.75 L1116.25,720 L1110,718.75 L1105,717.5 L1107.5,721.25 L1106.25,727.5 L1102.5,726.25 L1098.75,723.75 L1093.75,727.5 L1087.5,727.5 L1082.5,725 L1080,723.75 L1081.25,720 L1078.75,717.5 L1072.5,716.25 L1067.5,713.75 L1063.75,711.88 L1060,713.12 L1055,718.75 L1042.5,716.25 L1030,713.75 L1018.75,715 L1014.72,716.81 L1007.78,719.58 L1000.83,723.06 L995.28,727.92 L989.72,733.47 L982.78,738.33 L974.44,743.19 L966.11,747.36 L957.78,752.92 L950.83,759.17 L945.28,766.11 L941.11,773.06 L939.03,780 L939.03,785.56 L940.42,795.28 L942.5,805 L943.19,812.64 L937.5,816.25 L930,812.5 L922.5,808.75 L912.5,805 L902.5,802 L897.5,798.75 L895,790 L890,782.5 L888.75,772.5 L882.5,763.75 L875,753.75 L870,745 L865,735 L860,725 L852.5,717.5 L845,710.5 L837.5,710 L827.5,708 L820,710 L816.25,715 L812.5,723.75 L805,729.5 L797.5,725 L790,720 L781.25,712.5 L775,702.5 L771.25,692.5 L768.75,685 L762.5,680 L755,672.5 L747.5,662.5 L740,652.5 L736.25,646.25 L735,648.75 L700,646.25 L698,657 L679.5,654.5 L635,648 L558,603 L560,598.75 L508,592 L508.75,580 L505,570 L497.5,560 L490,555 L488.75,550 L485,545 L475,540 L470,532.5 L460,527.5 L447.5,521.25 L450,510 L447.5,500 L442.5,490 L437.5,477.5 L433.75,466.25 L438.75,458.75 L435,453.75 L430,443.75 L431.25,431.25 L432.5,427.5 L425,421.25 L425,415 L421.25,407.5 L418.75,400 L417.5,390 L419.5,380 L418.75,370 L415.5,362.5 L414.5,356.25 L418.75,347.5 L425,335 L428.75,325 L428.75,315 L430,305 L430.5,295 L435,287.5 L441.25,278.75 L446.25,270 L453.75,252.5 L461.25,230 L465.5,212.5 L466.25,208.75 L467,205 L470.5,200 L470,193.75 L474.5,191.25 L471.25,188.75 L470.5,175 L468.75,160ZM1405,374.58 L1408.33,372.08 L1413.33,369.17 L1420,366.67 L1426.67,364.17 L1430,361.83 L1432.33,359.33 L1433.33,360.42 L1431,363.33 L1430,364.33 L1433.33,363.33 L1438.33,361 L1441,360 L1438.33,362.67 L1433.33,366 L1426.67,370 L1420,374.17 L1413.33,378.33 L1408.33,381.5 L1404.58,382.67 L1403.17,379.58 L1403.75,376.67ZM1458.75,347.5 L1461.25,344.33 L1465.42,343.75 L1464.17,345.83 L1460,347.92ZM1470.83,345.83 L1474.17,342.67 L1476.25,344.58 L1473.33,346.25ZM1091.67,236.67 L1096.67,232.5 L1104.17,229.17 L1103.33,231.67 L1096.67,235.83 L1092.5,238.33ZM451.98,538.99 L455.03,539.4 L455.44,542.05 L452.59,542.05ZM458.7,539.6 L463.19,540.62 L466.25,542.05 L461.15,542.45ZM483.16,561.41 L486.63,562.43 L488.06,565.89 L485.2,565.89ZM479.49,572.01 L481.53,574.66 L483.57,578.12 L481.53,578.12ZM460.74,560.39 L463.19,562.43 L461.56,562.84ZM447.9,536.14 L450.14,536.95 L448.51,537.36Z"/>
<path d="M1098.12,701.25 L1100,696.88 L1103.75,695 L1108.75,696.88 L1112.5,700 L1108.12,701.88 L1105,704.38 L1100,703.12Z"/>
<path d="M1391.25,503.75 L1382.5,508.75 L1374.38,506.88 L1375.62,512.5 L1385,511.88 L1391.25,510 L1390,516.25 L1392.5,516.88 L1396.88,513.12 L1395,520 L1391.25,525 L1385,526.25 L1380,523.12 L1371.88,525.62 L1376.88,527.75 L1382.5,528.75 L1381.25,534.38 L1373.12,534.75 L1378.12,539 L1386.25,537.25 L1391.25,536.5 L1395.62,530.62 L1400,527.5 L1403.38,525 L1403.38,518.12 L1399,510.62 L1393.5,502.5Z"/>
<path d="M502.38,170 L504.06,170.12 L504.38,175 L503,177.38 L502,175.62Z"/>
<path d="M432,428.51 L433.84,423.21 L436.28,421.58 L439.14,422.8 L445.86,425.25 L453,428.31 L452.59,429.33 L444.84,426.88 L438.32,425.25 L436.69,428.51 L437.91,436.05 L437.51,440.74 L435.06,437.48 L433.63,431.98Z"/>
<path d="M997.36,724.72 L993.89,720.28 L993.19,716.81 L995.97,716.11 L998.06,714.72 L1000.14,717.5 L999.44,720.28 L1004.31,720.28 L1001.11,723.06Z"/>
<path d="M957.08,742.5 L958.47,745.97 L961.94,744.58 L970.28,744.58 L966.11,748.06 L961.94,749.72 L959.17,748.33Z"/>
<path d="M952.22,750.83 L954.31,753.61 L959.86,751.11 L956.11,755.69 L952.92,757.5Z"/>
<path d="M944.58,757.08 L948.06,755.69 L950.14,757.78 L946.94,761.94Z"/>
<path d="M937.64,764.72 L942.5,764.03 L945,765.69 L941.39,770.28Z"/>
<path d="M929.31,775.14 L931.39,778.89 L936.25,778.89 L937.22,782.78 L936.11,791.11 L937.5,799.44 L940.28,807.78 L942.22,811.25 L941.11,805.69 L939.03,798.06 L938.06,789.72 L938.33,782.08 L939.44,777.22 L936.94,777.22 L932.78,776.53Z"/>
<path d="M1375,460.83 L1371.67,459.17 L1367.5,457.5 L1361.67,455 L1355.83,457.08"/>
<path d="M1376.67,470.42 L1373.33,468.33 L1370,465.83 L1366.67,462.92 L1363.33,460.42"/>
<path d="M1376.67,478.33 L1371.67,476.25 L1366.67,473.33"/>
<path d="M1376.67,482.92 L1368.33,479.33 L1357.5,480"/>
<path d="M502.5,172.5 L501.88,175.62 L498.12,177.5 L495,180.62 L491.88,183.75 L489.69,186.56 L493.75,186.56 L498.75,180.62 L502.5,177.5"/>
<path d="M506.88,161.56 L509.38,165 L510,167.5 L508.12,170 L510,172.5 L510.94,175 L508.75,177.5 L506.88,180.62 L506.25,183.75 L505.62,186.88 L504.38,190 L500,192.5 L498.12,194.38 L495,194.69 L493.12,193.12 L490.31,192.5 L492.5,189.38 L495,188.44 L498.12,190 L500,189.38 L501.25,186.25 L500,183.12 L502.5,180 L504.38,177.5 L503.75,175 L502.5,172.5"/>
<path d="M498.75,155.62 L501.25,154.69 L503.12,156.25 L503.75,160 L501.88,161.25 L500,158.75 L498.75,155.62"/>
<path d="M501.88,155 L505,154.38 L506.25,155.94 L503.75,156.56 L501.88,155"/>
<path d="M1319.67,713.33 L1322.5,720 L1326.67,727 L1331.67,735.33 L1336.67,743.67 L1341.67,750.33"/>
<path d="M1321.67,714.17 L1325.83,721.67 L1327.83,724.17"/>
<path d="M1135,695.62 L1140,696.88"/>
<path d="M1145,695.88 L1150,694.62"/>
<path d="M1152.5,695.25 L1156.25,694"/>
<path d="M1133.75,701.88 L1135,706.25 L1132.5,711.88"/>
<path d="M1122.5,701.5 L1125.62,699.38"/>
<path d="M1346.67,798.33 L1345,805 L1340,811.67 L1333.33,815.83 L1326.67,818.33 L1319.17,820.83 L1314.17,823.67" stroke-dasharray="2.2 1.8"/>
</g>
</svg>
<div class="date"><span style="left:203.7px;letter-spacing:0.6px">October</span> <span style="left:347.9px;transform:scaleX(0.925);transform-origin:0 50%">05</span></div>
<div class="sub"><span style="left:206.5px;letter-spacing:0.12px">Based</span> <span style="left:247.7px;letter-spacing:0.9px">on</span> <span style="left:267.5px;letter-spacing:0.62px">storms</span> <span style="left:315.2px;letter-spacing:0.4px">from</span> <span style="left:348px;letter-spacing:-0.26px">1982-2011</span></div>
<svg class="logo" width="100" height="100" viewBox="1619 718 100 100" style="position:absolute;left:1619px;top:718px;">
<circle cx="1668.78" cy="767.56" r="44.23" fill="#fff"/>
<path d="M1703.11,742.22 C1702.50,742.41 1700.67,742.59 1699.44,743.33 C1698.22,744.07 1696.94,745.19 1695.78,746.67 C1694.61,748.15 1693.56,750.19 1692.44,752.22 C1691.33,754.26 1690.26,756.67 1689.11,758.89 C1687.96,761.11 1686.85,763.52 1685.56,765.56 C1684.26,767.59 1682.81,769.54 1681.33,771.11 C1679.85,772.69 1678.28,774.11 1676.67,775.00 C1675.06,775.89 1673.33,776.44 1671.67,776.44 C1670.00,776.44 1668.24,775.80 1666.67,775.00 C1665.09,774.20 1663.89,773.24 1662.22,771.67 C1660.56,770.09 1658.52,767.87 1656.67,765.56 C1654.81,763.24 1652.96,760.19 1651.11,757.78 C1649.26,755.37 1647.41,753.06 1645.56,751.11 C1643.70,749.17 1641.94,747.46 1640.00,746.11 C1638.06,744.76 1634.91,743.52 1633.89,743.00 A43.33,43.33 0 0 1 1703.11,742.22Z" fill="#263c7a"/>
<path d="M1627.22,756.11 C1627.69,756.20 1628.98,756.11 1630.00,756.67 C1631.02,757.22 1632.04,758.24 1633.33,759.44 C1634.63,760.65 1636.11,762.31 1637.78,763.89 C1639.44,765.46 1641.48,767.41 1643.33,768.89 C1645.19,770.37 1646.85,771.57 1648.89,772.78 C1650.93,773.98 1653.33,775.19 1655.56,776.11 C1657.78,777.04 1660.15,777.78 1662.22,778.33 C1664.30,778.89 1667.81,778.85 1668.00,779.44 C1668.19,780.04 1664.85,781.13 1663.33,781.89 C1661.81,782.65 1660.28,783.39 1658.89,784.00 C1657.50,784.61 1655.19,785.11 1655.00,785.56 C1654.81,786.00 1656.57,786.48 1657.78,786.67 C1658.98,786.85 1660.74,786.93 1662.22,786.67 C1663.70,786.41 1665.00,785.83 1666.67,785.11 C1668.33,784.39 1670.37,783.24 1672.22,782.33 C1674.07,781.43 1675.93,780.41 1677.78,779.67 C1679.63,778.93 1681.57,778.33 1683.33,777.89 C1685.09,777.44 1687.96,777.26 1688.33,777.00 C1688.70,776.74 1686.57,776.48 1685.56,776.33 C1684.54,776.19 1683.48,776.07 1682.22,776.11 C1680.96,776.15 1677.96,776.83 1678.00,776.56 C1678.04,776.28 1680.81,775.44 1682.44,774.44 C1684.07,773.44 1685.96,772.04 1687.78,770.56 C1689.59,769.07 1691.48,767.50 1693.33,765.56 C1695.19,763.61 1697.22,760.93 1698.89,758.89 C1700.56,756.85 1701.89,755.00 1703.33,753.33 C1704.78,751.67 1706.85,749.63 1707.56,748.89 A43.33,43.33 0 1 1 1627.22,756.11Z" fill="#0079c2"/>
<text x="1650.22" y="753.44" font-family="'Liberation Sans','DejaVu Sans',sans-serif" font-weight="700" font-size="16.2" fill="#fff" stroke="#fff" stroke-width="0.45" textLength="35.33" lengthAdjust="spacingAndGlyphs">NOAA</text>
</svg>
<div class="cbar"><i style="background:#ffffcc"></i><i style="background:#ffe793"></i><i style="background:#febe59"></i><i style="background:#fd8d3c"></i><i style="background:#f03c22"></i><i style="background:#c90823"></i><i style="background:#800026"></i></div>
<div class="lo">1<b>%</b></div><div class="hi">8<b>%</b></div>
<div class="title"><span style="left:624.6px;letter-spacing:1.32px">Historical</span> <span style="left:793.9px;letter-spacing:1.18px">Probability</span> <span style="left:983.1px;letter-spacing:2px;transform:scaleX(1.093);transform-origin:0 50%">of</span> <span style="left:1028.9px;letter-spacing:-0.38px">Severe</span> <span style="left:1151.3px;letter-spacing:0.45px">Weather</span></div>
<div class="tri"></div>
</body></html>
